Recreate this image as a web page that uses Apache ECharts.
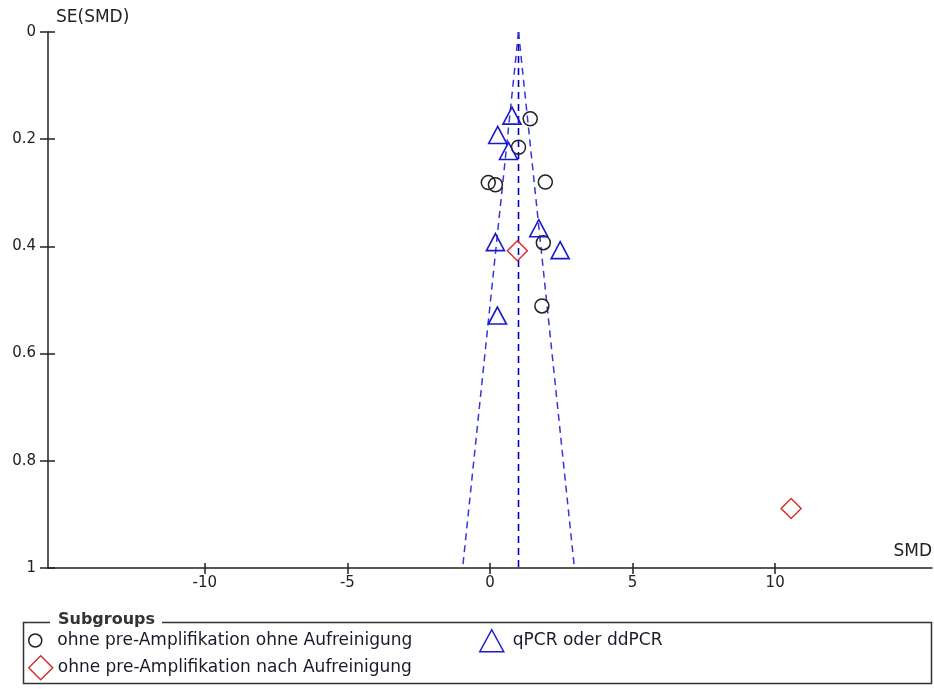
<!DOCTYPE html>
<html>
<head>
<meta charset="utf-8">
<script src="https://cdn.jsdelivr.net/npm/echarts@6/dist/echarts.min.js"></script>
<style>
html,body{margin:0;padding:0;background:#fff;}
#chart{width:934px;height:689px;}
</style>
</head>
<body>
<div id="chart"></div>
<script>
// ---- data ----
var seriesNames = [
  'ohne pre-Amplifikation ohne Aufreinigung',
  'qPCR oder ddPCR',
  'ohne pre-Amplifikation nach Aufreinigung'
];
var circleSMD = [1.41, 1.00, -0.06, 0.19, 1.94, 1.87, 1.82];
var circleSE  = [0.162, 0.215, 0.281, 0.285, 0.280, 0.393, 0.511];
var triSMD = [0.77, 0.27, 0.65, 1.71, 0.19, 2.46, 0.26];
var triSE  = [0.156, 0.192, 0.222, 0.366, 0.392, 0.407, 0.529];
var diaSMD = [0.96, 10.56];
var diaSE  = [0.408, 0.889];
var pooledSMD = 1.0;
var funnelSE = [0, 1];
var funnelLeftSMD = [1.0, -0.96];
var funnelRightSMD = [1.0, 2.96];
var xTicks = [-10, -5, 0, 5, 10];
var yTicks = [0, 0.2, 0.4, 0.6, 0.8, 1];

function pairs(xs, ys){ return xs.map(function(x,i){ return [x, ys[i]]; }); }

var FONT = 'DejaVu Sans';
var AX = '#222';
var BLUE = '#1a1acc';
var RED = '#d63030';

var chart = echarts.init(document.getElementById('chart'), null, {renderer:'canvas'});

var xBase = {
  type:'value', min:-15.5, max:15.5, position:'bottom',
  splitLine:{show:false}
};
var yBase = {
  type:'value', min:0, max:1, interval:0.2, inverse:true, position:'left',
  splitLine:{show:false}
};

var option = {
  animation:false,
  backgroundColor:'#fff',
  grid:{left:48, right:2, top:32, bottom:121, containLabel:false},
  xAxis:[
    Object.assign({}, xBase, {
      axisLine:{show:true, onZero:false, lineStyle:{color:AX, width:1.5}},
      axisTick:{show:true, inside:false, length:6, customValues:xTicks, lineStyle:{color:AX, width:1.5}},
      axisLabel:{show:true, customValues:xTicks, fontFamily:FONT, fontSize:15, color:AX, margin:8}
    }),
    Object.assign({}, xBase, {
      axisLine:{show:false, onZero:false},
      axisTick:{show:true, inside:true, length:5, customValues:xTicks, lineStyle:{color:AX, width:1.5}},
      axisLabel:{show:false}
    })
  ],
  yAxis:[
    Object.assign({}, yBase, {
      axisLine:{show:true, onZero:false, lineStyle:{color:AX, width:1.5}},
      axisTick:{show:true, inside:false, length:8, customValues:yTicks, lineStyle:{color:AX, width:1.5}},
      axisLabel:{show:true, customValues:yTicks, fontFamily:FONT, fontSize:15, color:AX, margin:12,
        formatter:function(v){ return String(v); }}
    }),
    Object.assign({}, yBase, {
      axisLine:{show:false, onZero:false},
      axisTick:{show:true, inside:true, length:7, customValues:yTicks, lineStyle:{color:AX, width:1.5}},
      axisLabel:{show:false}
    })
  ],
  legend:[
    {
      left:23, top:627, orient:'horizontal',
      itemWidth:24, itemHeight:13,
      textStyle:{fontFamily:FONT, fontSize:17, color:'#1a1a2a', padding:[0,0,0,5]},
      data:[{name:seriesNames[0], icon:'circle',
        itemStyle:{color:'rgba(0,0,0,0)', borderColor:'#222', borderWidth:1.5}}],
      selectedMode:false
    },
    {
      left:474, top:624, orient:'horizontal',
      itemWidth:24, itemHeight:22,
      textStyle:{fontFamily:FONT, fontSize:17, color:'#1a1a2a', padding:[0,0,0,4]},
      data:[{name:seriesNames[1], icon:'triangle',
        itemStyle:{color:'rgba(0,0,0,0)', borderColor:BLUE, borderWidth:1.5}}],
      selectedMode:false
    },
    {
      left:23, top:650, orient:'horizontal',
      itemWidth:24, itemHeight:24,
      textStyle:{fontFamily:FONT, fontSize:17, color:'#1a1a2a', padding:[0,0,0,0]},
      data:[{name:seriesNames[2], icon:'diamond',
        itemStyle:{color:'rgba(0,0,0,0)', borderColor:RED, borderWidth:1.5}}],
      selectedMode:false
    }
  ],
  graphic:[
    {type:'text', left:56, top:9, style:{text:'SE(SMD)', fontFamily:FONT, fontSize:17, fill:AX}},
    {type:'text', right:2, top:543, style:{text:'SMD', fontFamily:FONT, fontSize:17, fill:AX}},
    {type:'rect', shape:{x:23.5, y:622.5, width:908, height:61},
      style:{fill:'none', stroke:'#333', lineWidth:1.5}, z:1},
    {type:'rect', shape:{x:50, y:612, width:112, height:20}, style:{fill:'#fff'}, z:2},
    {type:'text', left:58, top:612, z:3,
      style:{text:'Subgroups', fontFamily:FONT, fontSize:16, fontWeight:'bold', fill:'#333'}}
  ],
  series:[
    {
      type:'line', xAxisIndex:0, yAxisIndex:0, silent:true, symbol:'none',
      data:pairs([pooledSMD, pooledSMD], funnelSE),
      lineStyle:{color:'#0000c0', width:1.6, type:[7,5]}, z:1
    },
    {
      type:'line', xAxisIndex:0, yAxisIndex:0, silent:true, symbol:'none',
      data:pairs(funnelLeftSMD, funnelSE),
      lineStyle:{color:'#3535dd', width:1.5, type:[7,5]}, z:1
    },
    {
      type:'line', xAxisIndex:0, yAxisIndex:0, silent:true, symbol:'none',
      data:pairs(funnelRightSMD, funnelSE),
      lineStyle:{color:'#3535dd', width:1.5, type:[7,5]}, z:1
    },
    {
      name:seriesNames[0], type:'scatter', xAxisIndex:0, yAxisIndex:0,
      symbol:'circle', symbolSize:14,
      itemStyle:{color:'rgba(0,0,0,0)', borderColor:'#222', borderWidth:1.5, opacity:1},
      data:pairs(circleSMD, circleSE), z:3
    },
    {
      name:seriesNames[1], type:'scatter', xAxisIndex:0, yAxisIndex:0,
      symbol:'triangle', symbolSize:[18,17],
      itemStyle:{color:'rgba(0,0,0,0)', borderColor:BLUE, borderWidth:1.6, opacity:1},
      data:pairs(triSMD, triSE), z:3
    },
    {
      name:seriesNames[2], type:'scatter', xAxisIndex:0, yAxisIndex:0,
      symbol:'diamond', symbolSize:[20,20],
      itemStyle:{color:'rgba(0,0,0,0)', borderColor:RED, borderWidth:1.5, opacity:1},
      data:pairs(diaSMD, diaSE), z:3
    }
  ]
};
chart.setOption(option);
</script>
</body>
</html>
